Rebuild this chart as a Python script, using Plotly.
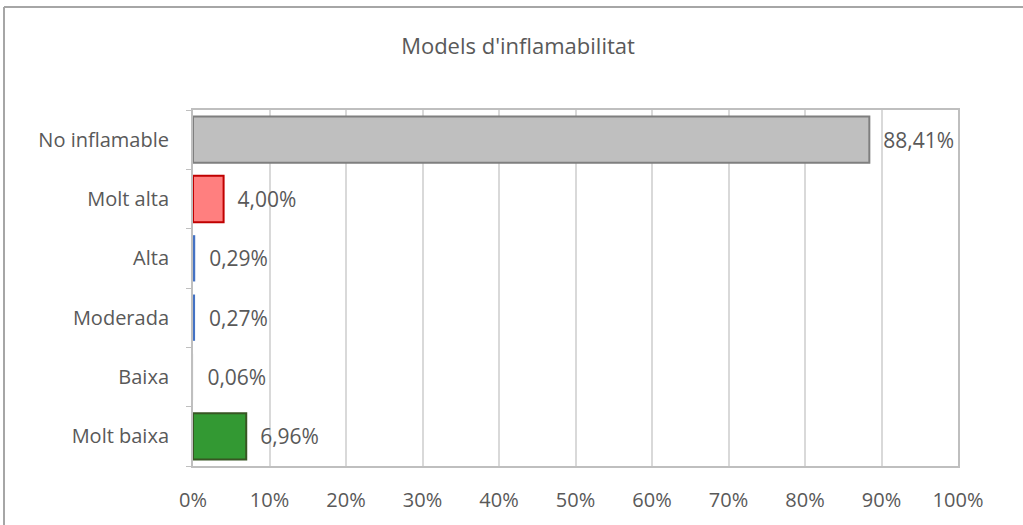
import plotly.graph_objects as go

# data
categories = ["Molt baixa", "Baixa", "Moderada", "Alta", "Molt alta", "No inflamable"]
shares = [0.0696, 0.0006, 0.0027, 0.0029, 0.0400, 0.8841]
fill_colors = ["#339933", "#F2F2F2", "#4472C4", "#4472C4", "#FF7F7F", "#BFBFBF"]
line_colors = ["#375623", "rgba(0,0,0,0)", "rgba(0,0,0,0)", "rgba(0,0,0,0)", "#C00000", "#7F7F7F"]
x_ticks = [i / 10 for i in range(11)]

txt = "#595959"
font_name = "Open Sans"

fig = go.Figure()
fig.add_trace(go.Bar(
    x=shares,
    y=categories,
    orientation="h",
    width=0.78,
    marker=dict(color=fill_colors, line=dict(color=line_colors, width=2)),
    texttemplate="\u00a0\u00a0%{x:.2%}",
    textposition="outside",
    cliponaxis=False,
    textfont=dict(family=font_name, size=21, color=txt),
    hoverinfo="skip",
))

fig.update_layout(
    width=1023,
    height=525,
    margin=dict(l=193, r=65, t=110, b=59),
    paper_bgcolor="white",
    plot_bgcolor="white",
    separators=",.",
    showlegend=False,
    bargap=0.22,
    title=dict(
        text="Models d'inflamabilitat",
        x=(518 - 193) / 765, xref="paper", xanchor="center",
        y=1 - 46 / 525, yanchor="middle",
        font=dict(family=font_name, size=22, color=txt),
    ),
    font=dict(family=font_name, size=20, color=txt),
)

fig.update_xaxes(
    range=[0, 1],
    tickvals=x_ticks,
    tickformat=".0%",
    showgrid=True,
    gridcolor="#D9D9D9",
    gridwidth=2,
    zeroline=False,
    showline=True,
    linecolor="#BFBFBF",
    linewidth=2,
    mirror=True,
    ticks="",
    ticklabelstandoff=15,
    tickfont=dict(family=font_name, size=20, color=txt),
)

fig.update_yaxes(
    categoryorder="array",
    categoryarray=categories,
    showgrid=False,
    showline=True,
    linecolor="#BFBFBF",
    linewidth=2,
    mirror=True,
    ticks="outside",
    tickson="boundaries",
    ticklen=5,
    tickcolor="#BFBFBF",
    ticklabelstandoff=18,
    tickfont=dict(family=font_name, size=20, color=txt),
)

# outer chart frame (top and left edges visible in the crop)
frame_left = (4 - 193) / 765
frame_top = (466 - 7) / 356
fig.add_shape(type="line", xref="paper", yref="paper",
              x0=frame_left, x1=(1023 - 193) / 765, y0=frame_top, y1=frame_top,
              line=dict(color="#A6A6A6", width=2))
fig.add_shape(type="line", xref="paper", yref="paper",
              x0=frame_left, x1=frame_left, y0=frame_top, y1=(466 - 525) / 356,
              line=dict(color="#A6A6A6", width=2))

fig.write_html("out.html", config={"displayModeBar": False},
               post_script="document.body.style.margin='0';")
